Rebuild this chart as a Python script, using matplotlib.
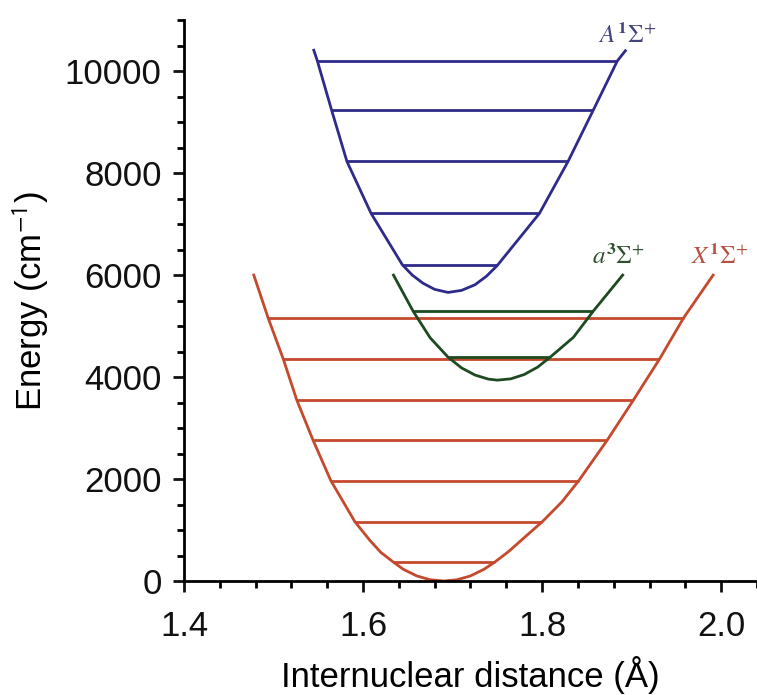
import numpy as np
from matplotlib import pyplot as plt
from matplotlib.ticker import MultipleLocator

plt.rcParams['font.family'] = ['Liberation Sans', 'DejaVu Sans']
plt.rcParams['mathtext.fontset'] = 'stix'

# X1Sigma+ (ground state) curve
x_X = [1.478, 1.494, 1.511, 1.526, 1.544, 1.564, 1.578, 1.591, 1.608, 1.620, 1.634,
       1.645, 1.660, 1.675, 1.690, 1.705, 1.720, 1.735, 1.747, 1.762, 1.780,
       1.800, 1.822, 1.841, 1.873, 1.902, 1.931, 1.958, 1.991]
E_X = [6000, 5160, 4350, 3550, 2770, 1970, 1550, 1160, 790, 560, 370,
       230, 100, 25, 0, 25, 100, 230, 370, 570, 850,
       1160, 1550, 1970, 2770, 3550, 4350, 5160, 6000]
lev_X = [370, 1160, 1970, 2770, 3550, 4350, 5160]
lev_X_left = [1.634, 1.591, 1.564, 1.544, 1.526, 1.511, 1.494]
lev_X_right = [1.747, 1.800, 1.841, 1.873, 1.902, 1.931, 1.958]

# a3Sigma+ curve
x_a = [1.634, 1.656, 1.675, 1.695, 1.710, 1.725, 1.740, 1.750, 1.765, 1.780,
       1.795, 1.809, 1.835, 1.857, 1.890]
E_a = [6000, 5290, 4770, 4390, 4180, 4040, 3960, 3940, 3965, 4050,
       4195, 4390, 4780, 5290, 6000]
lev_a = [4390, 5300]
lev_a_left = [1.695, 1.656]
lev_a_right = [1.809, 1.857]

# A1Sigma+ curve
x_A = [1.545, 1.549, 1.565, 1.582, 1.609, 1.644, 1.655, 1.667, 1.680, 1.695,
       1.710, 1.725, 1.738, 1.750, 1.797, 1.829, 1.857, 1.884, 1.893]
E_A = [10410, 10200, 9230, 8230, 7210, 6200, 6000, 5840, 5720, 5660,
       5700, 5810, 5980, 6190, 7210, 8230, 9230, 10200, 10400]
lev_A = [6195, 7210, 8230, 9230, 10200]
lev_A_left = [1.644, 1.609, 1.582, 1.565, 1.549]
lev_A_right = [1.750, 1.797, 1.829, 1.857, 1.884]

c_X = '#c4492d'
c_a = '#1e4a22'
c_A = '#2e2b8a'

fig = plt.figure(figsize=(7.57, 6.95), dpi=100)
ax = fig.add_axes([0.243, 0.164, 0.757, 0.807])

lw = 2.0
ax.plot(x_X, E_X, color=c_X, lw=lw, zorder=2)
ax.hlines(lev_X, lev_X_left, lev_X_right, color=c_X, lw=lw, zorder=2)
ax.plot(x_a, E_a, color=c_a, lw=lw, zorder=3)
ax.hlines(lev_a, lev_a_left, lev_a_right, color=c_a, lw=lw, zorder=3)
ax.plot(x_A, E_A, color=c_A, lw=lw, zorder=4)
ax.hlines(lev_A, lev_A_left, lev_A_right, color=c_A, lw=lw, zorder=4)

# state labels
ax.text(1.895, 10700, r'$A^{\mathbf{1}}\Sigma^{+}$', color='#45457e', fontsize=18,
        ha='center', va='center')
ax.text(1.885, 6370, r'$a^{\mathbf{3}}\Sigma^{+}$', color='#2f502f', fontsize=18,
        ha='center', va='center')
ax.text(1.998, 6370, r'$X^{\mathbf{1}}\Sigma^{+}$', color='#b4523f', fontsize=18,
        ha='center', va='center')

ax.set_xlim(1.4, 2.04)
ax.set_ylim(0, 11000)
ax.xaxis.set_minor_locator(MultipleLocator(0.04))
ax.yaxis.set_major_locator(MultipleLocator(2000))
ax.yaxis.set_minor_locator(MultipleLocator(500))
ax.set_xticks([1.4, 1.6, 1.8, 2.0])
ax.set_xticklabels(['1.4', '1.6', '1.8', '2.0'])

for s in ['top', 'right']:
    ax.spines[s].set_visible(False)
for s in ['left', 'bottom']:
    ax.spines[s].set_linewidth(2.0)
ax.tick_params(which='major', length=8, width=2, labelsize=25, pad=8, colors='#111111')
ax.tick_params(which='minor', length=5, width=2)
ax.tick_params(axis='x', which='major', pad=13)

ax.set_xlabel('Internuclear distance (Å)', fontsize=25, labelpad=9)
ax.set_ylabel('Energy (cm$^{\\mathsf{-1}}$)', fontsize=25, labelpad=10)

fig.savefig('out.png', dpi=100)
